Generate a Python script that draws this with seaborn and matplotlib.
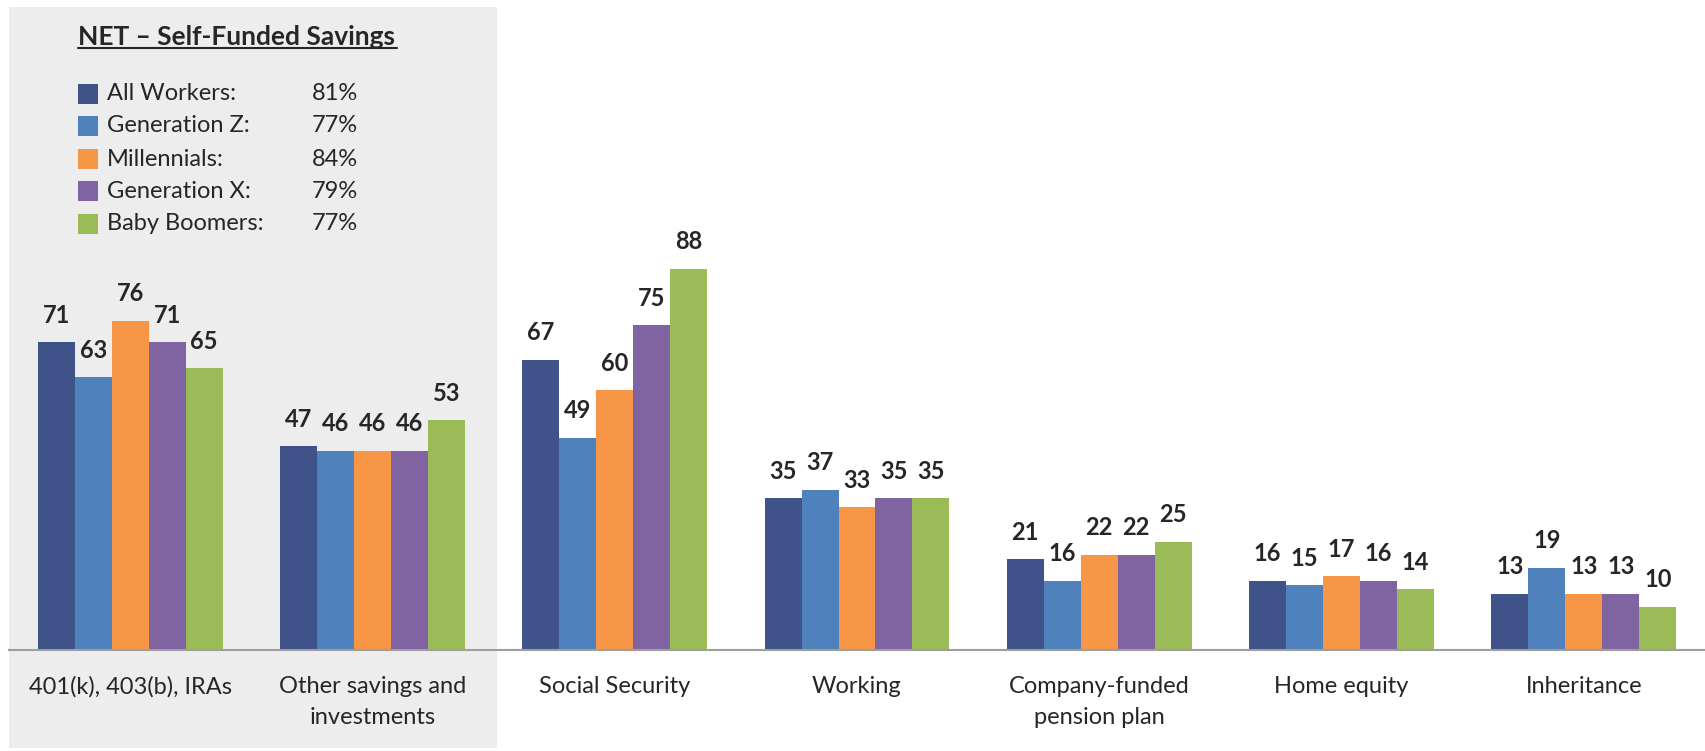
import pandas as pd
import matplotlib.pyplot as plt
import seaborn as sns
from matplotlib.patches import Rectangle
from matplotlib.lines import Line2D

# Data
categories = ["401(k), 403(b), IRAs", "Other savings and\ninvestments", "Social Security",
              "Working", "Company-funded\npension plan", "Home equity", "Inheritance"]
groups = ["All Workers", "Generation Z", "Millennials", "Generation X", "Baby Boomers"]
all_workers = [71, 47, 67, 35, 21, 16, 13]
gen_z = [63, 46, 49, 37, 16, 15, 19]
millennials = [76, 46, 60, 33, 22, 17, 13]
gen_x = [71, 46, 75, 35, 22, 16, 13]
boomers = [65, 53, 88, 35, 25, 14, 10]
net_labels = ["All Workers:", "Generation Z:", "Millennials:", "Generation X:", "Baby Boomers:"]
net_values = ["81%", "77%", "84%", "79%", "77%"]

colors = ["#40528A", "#4F81BD", "#F79646", "#8064A2", "#9BBB59"]

rows = []
for g, vals in zip(groups, [all_workers, gen_z, millennials, gen_x, boomers]):
    for c, v in zip(categories, vals):
        rows.append({"category": c, "group": g, "value": v})
df = pd.DataFrame(rows)

sns.set_style("white")
plt.rcParams['font.family'] = ['Lato', 'DejaVu Sans']
txt = "#262626"

W, H = 1705, 751
fig = plt.figure(figsize=(W / 100, H / 100), dpi=100)

# gray highlight panel behind the first two categories
fig.patches.append(Rectangle((9 / W, 1 - 748 / H), 488 / W, 741 / H,
                             transform=fig.transFigure, facecolor="#EDEDED",
                             edgecolor="none", zorder=0))

ax = fig.add_axes([9 / W, 1 - 650 / H, 1 - 9 / W, 650 / H])
ax.set_zorder(2)
ax.patch.set_alpha(0)
sns.barplot(data=df, x="category", y="value", hue="group", palette=colors,
            width=0.763, gap=0, ax=ax, legend=False, saturation=1,
            edgecolor="none", linewidth=0)
ax.set_ylim(0, 150)
ax.set_xlim(-0.5, len(categories) - 0.5)

for cont in ax.containers:
    ax.bar_label(cont, fmt="%d", padding=11, fontsize=17, fontweight="bold", color=txt)

ax.set_xlabel("")
ax.set_ylabel("")
ax.set_yticks([])
ax.tick_params(axis="x", length=0, pad=19, labelsize=17, labelcolor=txt)
for lab in ax.get_xticklabels():
    lab.set_linespacing(1.55)
for s in ["top", "left", "right"]:
    ax.spines[s].set_visible(False)
ax.spines["bottom"].set_color("#9E9E9E")
ax.spines["bottom"].set_linewidth(1.5)

# legend box
fig.text(78 / W, 1 - 37 / H, "NET – Self-Funded Savings", fontsize=19, fontweight="bold",
         color=txt, va="center", ha="left")
fig.add_artist(Line2D([78 / W, 397 / W], [1 - 48 / H, 1 - 48 / H], color=txt, lw=1.5,
                      transform=fig.transFigure))
row_y = [94, 126, 159, 191, 224]
for y, col, lab, val in zip(row_y, colors, net_labels, net_values):
    fig.patches.append(Rectangle((78 / W, 1 - (y + 10) / H), 20 / W, 20 / H,
                                 transform=fig.transFigure, facecolor=col, edgecolor="none"))
    fig.text(107 / W, 1 - y / H, lab, fontsize=17, color=txt, va="center", ha="left")
    fig.text(312 / W, 1 - y / H, val, fontsize=17, color=txt, va="center", ha="left")

plt.savefig("out.png", dpi=100)
